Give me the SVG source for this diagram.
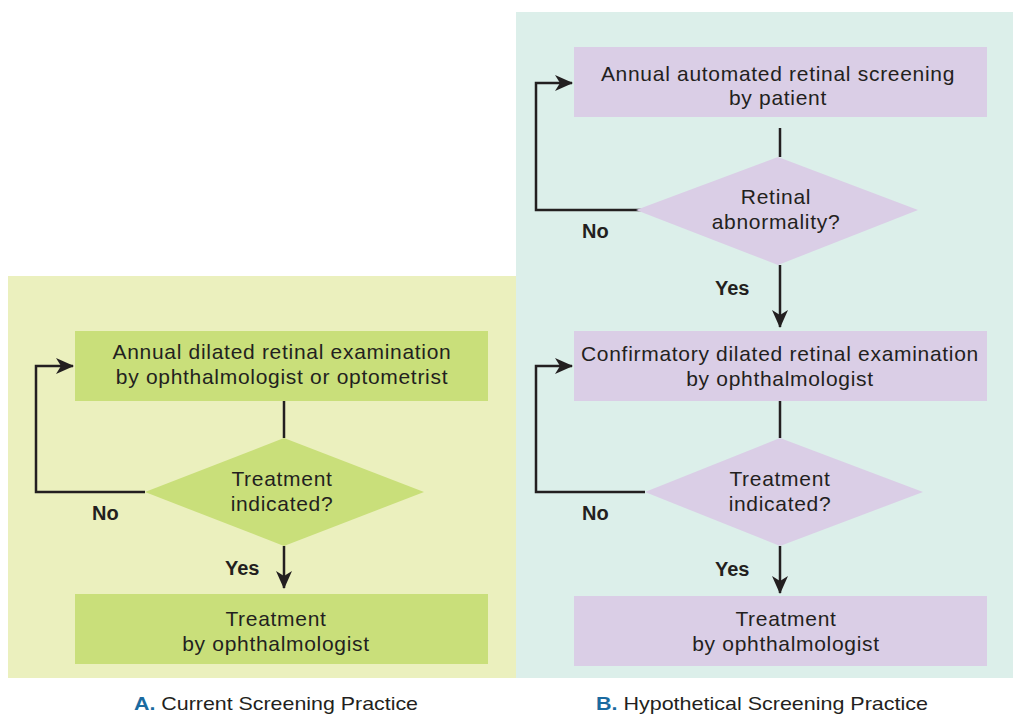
<svg xmlns="http://www.w3.org/2000/svg" width="1013" height="715" viewBox="0 0 1013 715">
<style>
.t{font-family:"Liberation Sans",Arial,sans-serif;font-size:21px;letter-spacing:0.7px;fill:#231f20;text-anchor:middle}
.lb{font-family:"Liberation Sans",Arial,sans-serif;font-size:20px;font-weight:bold;fill:#231f20}
.cap{font-family:"Liberation Sans",Arial,sans-serif;font-size:19px;fill:#231f20}
.capl{fill:#1a6aa0;font-weight:bold}
.gA{fill:#c9df7a}
.gB{fill:#dacee6}
.ln{fill:none;stroke:#231f20;stroke-width:2.5}
</style>
<defs>
<marker id="ah" markerUnits="userSpaceOnUse" viewBox="0 0 18 16" refX="17" refY="8" markerWidth="18" markerHeight="16" orient="auto">
<path d="M0,0 L18,8 L0,16 L5,8 Z" fill="#231f20"/>
</marker>
</defs>
<rect x="0" y="0" width="1013" height="715" fill="#ffffff"/>
<rect id="panelA" x="8" y="276" width="508" height="402" fill="#ebf0be"/>
<rect id="panelB" x="516" y="12" width="497" height="666" fill="#dcefea"/>

<g id="connectors">
<path class="ln" d="M284,401 V438"/>
<path class="ln" d="M284,546 V588" marker-end="url(#ah)"/>
<path class="ln" d="M145,492 H36 V366 H73" marker-end="url(#ah)"/>
<path class="ln" d="M780,128 V157"/>
<path class="ln" d="M780,265 V327" marker-end="url(#ah)"/>
<path class="ln" d="M645,210 H536 V83 H572" marker-end="url(#ah)"/>
<path class="ln" d="M780,401 V438"/>
<path class="ln" d="M780,546 V593" marker-end="url(#ah)"/>
<path class="ln" d="M645,492 H536 V366 H572" marker-end="url(#ah)"/>
<text class="lb" x="92" y="520">No</text>
<text class="lb" x="225" y="575">Yes</text>
<text class="lb" x="582" y="238">No</text>
<text class="lb" x="715" y="295">Yes</text>
<text class="lb" x="582" y="520">No</text>
<text class="lb" x="715" y="576">Yes</text>
</g>

<g id="a1">
<rect class="gA" x="75" y="331" width="413" height="70"/>
<text class="t" x="282" y="359">Annual dilated retinal examination</text>
<text class="t" x="282" y="384">by ophthalmologist or optometrist</text>
</g>
<g id="a2">
<polygon class="gA" points="284,438 424,492 284,546 145,492"/>
<text class="t" x="282" y="486">Treatment</text>
<text class="t" x="282" y="511">indicated?</text>
</g>
<g id="a3">
<rect class="gA" x="75" y="594" width="413" height="70"/>
<text class="t" x="276" y="626">Treatment</text>
<text class="t" x="276" y="651">by ophthalmologist</text>
</g>

<g id="b1">
<rect class="gB" x="574" y="47" width="413" height="70"/>
<text class="t" x="778" y="81">Annual automated retinal screening</text>
<text class="t" x="778" y="105">by patient</text>
</g>
<g id="b2">
<polygon class="gB" points="778,157 918,210 778,265 636,210"/>
<text class="t" x="776" y="204">Retinal</text>
<text class="t" x="776" y="229">abnormality?</text>
</g>
<g id="b3">
<rect class="gB" x="574" y="331" width="413" height="70"/>
<text class="t" x="780" y="361">Confirmatory dilated retinal examination</text>
<text class="t" x="780" y="386">by ophthalmologist</text>
</g>
<g id="b4">
<polygon class="gB" points="780,438 923,492 780,546 645,492"/>
<text class="t" x="780" y="486">Treatment</text>
<text class="t" x="780" y="511">indicated?</text>
</g>
<g id="b5">
<rect class="gB" x="574" y="596" width="413" height="70"/>
<text class="t" x="786" y="626">Treatment</text>
<text class="t" x="786" y="651">by ophthalmologist</text>
</g>

<text class="cap" x="134" y="710" textLength="284" lengthAdjust="spacingAndGlyphs"><tspan class="capl">A.</tspan> Current Screening Practice</text>
<text class="cap" x="596" y="710" textLength="332" lengthAdjust="spacingAndGlyphs"><tspan class="capl">B.</tspan> Hypothetical Screening Practice</text>
</svg>
